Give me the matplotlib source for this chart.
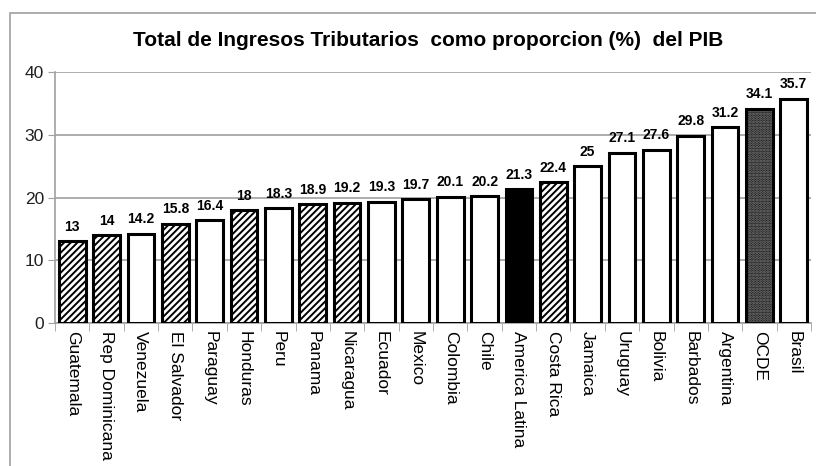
import matplotlib.pyplot as plt
from matplotlib.patches import Rectangle

plt.rcParams['font.family'] = ['Liberation Sans', 'DejaVu Sans']
plt.rcParams['hatch.linewidth'] = 1.4

paises = ["Guatemala", "Rep Dominicana", "Venezuela", "El Salvador", "Paraguay",
          "Honduras", "Peru", "Panama", "Nicaragua", "Ecuador", "Mexico",
          "Colombia", "Chile", "America Latina", "Costa Rica", "Jamaica",
          "Uruguay", "Bolivia", "Barbados", "Argentina", "OCDE", "Brasil"]
valores = [13, 14, 14.2, 15.8, 16.4, 18, 18.3, 18.9, 19.2, 19.3, 19.7,
           20.1, 20.2, 21.3, 22.4, 25, 27.1, 27.6, 29.8, 31.2, 34.1, 35.7]
etiquetas = ["13", "14", "14.2", "15.8", "16.4", "18", "18.3", "18.9", "19.2",
             "19.3", "19.7", "20.1", "20.2", "21.3", "22.4", "25", "27.1",
             "27.6", "29.8", "31.2", "34.1", "35.7"]
# tipo de relleno: h = rayado, b = blanco, n = negro, p = punteado
tipo = ["h", "h", "b", "h", "b", "h", "b", "h", "h", "b", "b",
        "b", "b", "n", "h", "b", "b", "b", "b", "b", "p", "b"]

fig = plt.figure(figsize=(8.16, 4.66), dpi=100)
fig.patches.append(Rectangle((10 / 816, -0.1), 1.1, 1 - 13 / 466 + 0.1,
                             transform=fig.transFigure, fill=False,
                             edgecolor='#a0a0a0', linewidth=1.2))
ax = fig.add_axes([55 / 816, 1 - 323 / 466, (811 - 55) / 816, (323 - 72) / 466])

x = list(range(len(paises)))
for i, (v, t) in enumerate(zip(valores, tipo)):
    if t == "h":
        ax.bar(i, v, width=0.78, color='white', edgecolor='black', hatch='/////',
               linewidth=2.2, zorder=3)
    elif t == "n":
        ax.bar(i, v, width=0.78, color='black', edgecolor='black',
               linewidth=2.2, zorder=3)
    elif t == "p":
        ax.bar(i, v, width=0.78, color='#151515', edgecolor='#808080', hatch='......',
               linewidth=0, zorder=3)
        ax.bar(i, v, width=0.78, fill=False, edgecolor='black',
               linewidth=2.2, zorder=4)
    else:
        ax.bar(i, v, width=0.78, color='white', edgecolor='black',
               linewidth=2.2, zorder=3)
    ax.text(i, v + 1.2, etiquetas[i], ha='center', va='bottom',
            fontsize=10, fontweight='bold')

ax.set_xlim(-0.5, len(paises) - 0.5)
ax.set_ylim(0, 40)
ax.set_yticks([0, 10, 20, 30, 40])
ax.tick_params(axis='y', labelsize=12.5, length=5, color='#a0a0a0', pad=3,
               labelcolor='#202020')
ax.yaxis.grid(True, color='#a0a0a0', linewidth=1.2, zorder=0)
ax.set_axisbelow(True)

ax.set_xticks(x)
ax.set_xticklabels(paises, rotation=270, fontsize=12.5)
ax.tick_params(axis='x', length=0, pad=6)
ax.set_xticks([i + 0.5 for i in range(-1, len(paises))], minor=True)
ax.tick_params(axis='x', which='minor', length=6, color='#a0a0a0')

for s in ['top', 'right']:
    ax.spines[s].set_visible(False)
ax.spines['left'].set_color('#a0a0a0')
ax.spines['bottom'].set_color('#a0a0a0')
ax.spines['left'].set_linewidth(1.2)
ax.spines['bottom'].set_linewidth(1.2)

fig.text(428 / 816, 1 - 40 / 466, "Total de Ingresos Tributarios  como proporcion (%)  del PIB",
         ha='center', va='center', fontsize=15, fontweight='bold')

fig.savefig("out.png", dpi=100)
